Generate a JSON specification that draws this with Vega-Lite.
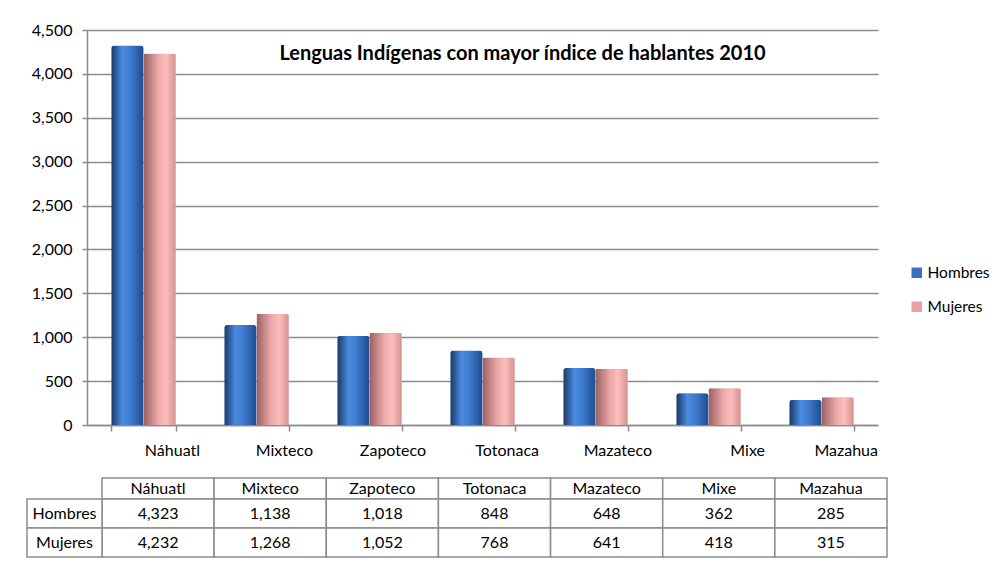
{
  "$schema": "https://vega.github.io/schema/vega-lite/v6.json",
  "width": 791,
  "height": 395,
  "autosize": {"type": "none"},
  "padding": {"left": 87, "top": 30, "right": 118, "bottom": 149},
  "background": "white",
  "config": {"font": "Lato", "view": {"stroke": null}},
  "title": {
    "text": "Lenguas Indígenas con mayor índice de hablantes 2010",
    "fontSize": 20,
    "fontWeight": "bold",
    "font": "Lato",
    "color": "#000000",
    "anchor": "middle",
    "dx": 40,
    "dy": 46
  },
  "datasets": {
    "datos": [
      {"lengua": "Náhuatl", "sexo": "Hombres", "valor": 4323},
      {"lengua": "Náhuatl", "sexo": "Mujeres", "valor": 4232},
      {"lengua": "Mixteco", "sexo": "Hombres", "valor": 1138},
      {"lengua": "Mixteco", "sexo": "Mujeres", "valor": 1268},
      {"lengua": "Zapoteco", "sexo": "Hombres", "valor": 1018},
      {"lengua": "Zapoteco", "sexo": "Mujeres", "valor": 1052},
      {"lengua": "Totonaca", "sexo": "Hombres", "valor": 848},
      {"lengua": "Totonaca", "sexo": "Mujeres", "valor": 768},
      {"lengua": "Mazateco", "sexo": "Hombres", "valor": 648},
      {"lengua": "Mazateco", "sexo": "Mujeres", "valor": 641},
      {"lengua": "Mixe", "sexo": "Hombres", "valor": 362},
      {"lengua": "Mixe", "sexo": "Mujeres", "valor": 418},
      {"lengua": "Mazahua", "sexo": "Hombres", "valor": 285},
      {"lengua": "Mazahua", "sexo": "Mujeres", "valor": 315}
    ],
    "lenguas": [
      {"lengua": "Náhuatl", "fila": "Lengua"},
      {"lengua": "Mixteco", "fila": "Lengua"},
      {"lengua": "Zapoteco", "fila": "Lengua"},
      {"lengua": "Totonaca", "fila": "Lengua"},
      {"lengua": "Mazateco", "fila": "Lengua"},
      {"lengua": "Mixe", "fila": "Lengua"},
      {"lengua": "Mazahua", "fila": "Lengua"}
    ],
    "filas": [
      {"sexo": "Hombres", "col": "encabezado"},
      {"sexo": "Mujeres", "col": "encabezado"}
    ]
  },
  "layer": [
    {
      "data": {"name": "datos"},
      "encoding": {
        "x": {
          "field": "lengua", "type": "nominal", "sort": null,
          "scale": {"paddingInner": 0.43, "paddingOuter": 0.215},
          "axis": {
            "title": null, "labelAngle": 0, "labelAlign": "right", "labelOffset": 56,
            "labelPadding": 11, "labelFontSize": 16, "labelColor": "#000000", "labelFont": "Lato",
            "tickBand": "extent", "tickSize": 6, "tickColor": "#8c8c8c", "tickWidth": 1.5,
            "domainColor": "#8c8c8c", "domainWidth": 1.5, "grid": false
          }
        },
        "xOffset": {"field": "sexo", "sort": ["Hombres", "Mujeres"]},
        "y": {
          "field": "valor", "type": "quantitative",
          "scale": {"domain": [0, 4500]},
          "axis": {
            "title": null, "values": [0, 500, 1000, 1500, 2000, 2500, 3000, 3500, 4000, 4500],
            "format": ",d", "grid": true, "gridColor": "#8c8c8c", "gridWidth": 1.5,
            "domainColor": "#8c8c8c", "domainWidth": 1.5, "tickColor": "#8c8c8c", "tickWidth": 1.5,
            "tickSize": 5, "labelPadding": 10, "labelFontSize": 16, "labelColor": "#000000", "labelFont": "Lato"
          }
        }
      },
      "layer": [
        {
          "mark": {"type": "bar", "cornerRadiusTopLeft": 3, "cornerRadiusTopRight": 3},
          "encoding": {
            "color": {
              "field": "sexo", "type": "nominal",
              "scale": {"domain": ["Hombres", "Mujeres"], "range": ["#3a72c0", "#e8a0a0"]},
              "legend": {
                "title": null, "orient": "none", "legendX": 822, "legendY": 235,
                "symbolType": "square", "symbolSize": 110, "symbolStrokeWidth": 0, "symbolOpacity": 1,
                "labelFontSize": 15.5, "labelColor": "#000000", "labelFont": "Lato", "rowPadding": 17, "labelOffset": 3
              }
            }
          }
        },
        {
          "transform": [{"filter": "datum.sexo === 'Hombres'"}],
          "mark": {
            "type": "bar", "cornerRadiusTopLeft": 3, "cornerRadiusTopRight": 3,
            "fill": {"gradient": "linear", "x1": 0, "y1": 0, "x2": 1, "y2": 0,
              "stops": [{"offset": 0, "color": "#1a3866"}, {"offset": 0.35, "color": "#4b8be0"}, {"offset": 0.6, "color": "#3d7bcc"}, {"offset": 1, "color": "#1f4c8f"}]}
          }
        },
        {
          "transform": [{"filter": "datum.sexo === 'Mujeres'"}],
          "mark": {
            "type": "bar", "cornerRadiusTopLeft": 1, "cornerRadiusTopRight": 1,
            "fill": {"gradient": "linear", "x1": 0, "y1": 0, "x2": 1, "y2": 0,
              "stops": [{"offset": 0, "color": "#9a5f5f"}, {"offset": 0.45, "color": "#eba8a8"}, {"offset": 0.7, "color": "#ffbcbc"}, {"offset": 1, "color": "#d39393"}]}
          }
        }
      ]
    },
    {
      "data": {"name": "lenguas"},
      "encoding": {
        "x": {"field": "lengua", "type": "nominal", "sort": null,
              "scale": {"domain": ["Náhuatl", "Mixteco", "Zapoteco", "Totonaca", "Mazateco", "Mixe", "Mazahua"], "range": [15, 800], "paddingInner": 0, "paddingOuter": 0},
              "axis": null},
        "y": {"field": "fila", "type": "nominal",
              "scale": {"domain": ["Lengua"], "range": [448, 469], "paddingInner": 0, "paddingOuter": 0},
              "axis": null}
      },
      "layer": [
        {"mark": {"type": "rect", "fill": "white", "stroke": "#8c8c8c", "strokeWidth": 1.5}},
        {"mark": {"type": "text", "fontSize": 16, "font": "Lato", "color": "#000000", "baseline": "middle"},
         "encoding": {"text": {"field": "lengua"}}}
      ]
    },
    {
      "data": {"name": "datos"},
      "encoding": {
        "x": {"field": "lengua", "type": "nominal", "sort": null,
              "scale": {"domain": ["Náhuatl", "Mixteco", "Zapoteco", "Totonaca", "Mazateco", "Mixe", "Mazahua"], "range": [15, 800], "paddingInner": 0, "paddingOuter": 0},
              "axis": null},
        "y": {"field": "sexo", "type": "nominal",
              "scale": {"domain": ["Hombres", "Mujeres"], "range": [469, 527], "paddingInner": 0, "paddingOuter": 0},
              "axis": null}
      },
      "layer": [
        {"mark": {"type": "rect", "fill": "white", "stroke": "#8c8c8c", "strokeWidth": 1.5}},
        {"mark": {"type": "text", "fontSize": 16, "font": "Lato", "color": "#000000", "baseline": "middle"},
         "encoding": {"text": {"field": "valor", "type": "quantitative", "format": ",d"}}}
      ]
    },
    {
      "data": {"name": "filas"},
      "encoding": {
        "x": {"field": "col", "type": "nominal",
              "scale": {"domain": ["encabezado"], "range": [-60, 15], "paddingInner": 0, "paddingOuter": 0},
              "axis": null},
        "y": {"field": "sexo", "type": "nominal",
              "scale": {"domain": ["Hombres", "Mujeres"], "range": [469, 527], "paddingInner": 0, "paddingOuter": 0},
              "axis": null}
      },
      "layer": [
        {"mark": {"type": "rect", "fill": "white", "stroke": "#8c8c8c", "strokeWidth": 1.5}},
        {"mark": {"type": "text", "fontSize": 16, "font": "Lato", "color": "#000000", "baseline": "middle"},
         "encoding": {"text": {"field": "sexo"}}}
      ]
    }
  ],
  "resolve": {"scale": {"x": "independent", "y": "independent", "color": "independent"}}
}
